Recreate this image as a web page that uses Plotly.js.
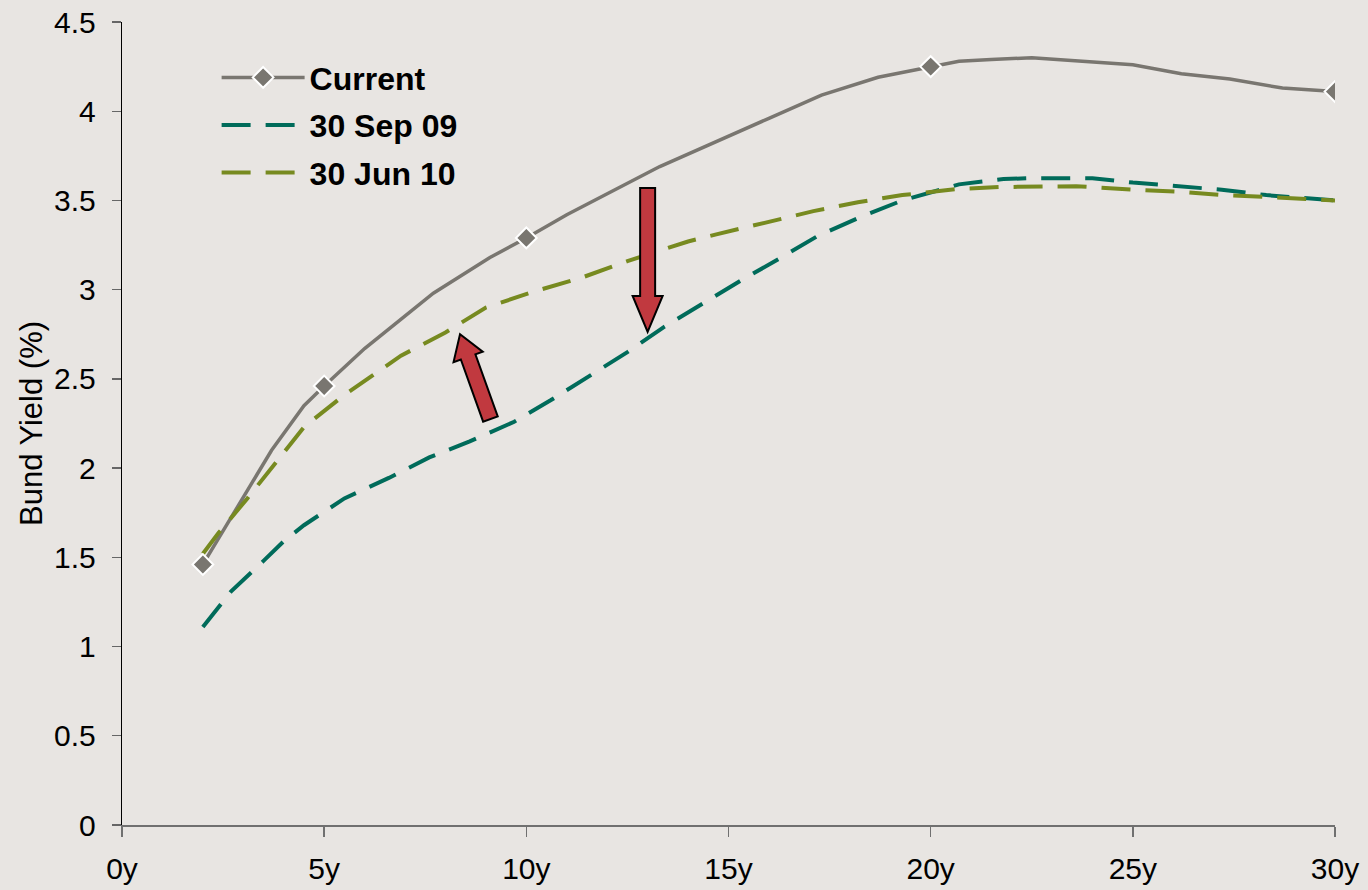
<!DOCTYPE html>
<html>
<head>
<meta charset="utf-8">
<script src="https://cdn.plot.ly/plotly-3.0.1.min.js"></script>
<style>
  html, body { margin: 0; padding: 0; background: #E8E5E2; }
  #chart { width: 1368px; height: 890px; }
</style>
</head>
<body>
<div id="chart"></div>
<script>
// ---- Data ----
const seriesNames = ["Current", "30 Sep 09", "30 Jun 10"];

const currentTenor = [2, 3.7, 4.5, 5, 6, 7.7, 9.1, 10, 11, 13.3, 16, 17.3, 18.7, 20, 20.7, 21.5, 22.5, 25, 26.2, 27.4, 28.7, 30];
const currentYield = [1.46, 2.10, 2.35, 2.46, 2.67, 2.98, 3.18, 3.29, 3.42, 3.69, 3.96, 4.09, 4.19, 4.25, 4.28, 4.29, 4.30, 4.26, 4.21, 4.18, 4.13, 4.11];

const sep09Tenor = [2, 2.7, 3.5, 4.0, 4.5, 5.5, 6.6, 7.6, 8.6, 9.7, 10.6, 11.6, 12.5, 13.4, 14.4, 15.3, 16.3, 17.2, 18.3, 19.3, 20.7, 21.8, 22.5, 24, 25, 26.1, 27.2, 28.3, 30];
const sep09Yield = [1.11, 1.31, 1.48, 1.59, 1.68, 1.83, 1.945, 2.06, 2.15, 2.26, 2.38, 2.52, 2.65, 2.79, 2.93, 3.05, 3.18, 3.30, 3.41, 3.50, 3.59, 3.62, 3.625, 3.625, 3.60, 3.58, 3.56, 3.53, 3.50];

const jun10Tenor = [2, 2.4, 3.1, 3.8, 4.5, 5.5, 6.4, 6.9, 8.0, 9.0, 10.2, 11.4, 12.5, 14.0, 14.7, 16.0, 17.1, 18.2, 19.3, 20.7, 21.7, 23.6, 25, 26.1, 27.2, 28.3, 30];
const jun10Yield = [1.52, 1.64, 1.83, 2.03, 2.23, 2.41, 2.55, 2.63, 2.76, 2.90, 2.99, 3.07, 3.16, 3.27, 3.31, 3.38, 3.44, 3.49, 3.53, 3.565, 3.575, 3.58, 3.56, 3.55, 3.53, 3.52, 3.50];

// tenors of the "Current" curve that carry a diamond marker
const currentMarkerTenors = [2, 5, 10, 20, 30];

const xTickVals = [0, 5, 10, 15, 20, 25, 30];
const xTickText = ["0y", "5y", "10y", "15y", "20y", "25y", "30y"];
const yAxisTitle = "Bund Yield (%)";

// ---- Styles ----
const FONT = "Liberation Sans, Arial, Helvetica, sans-serif";
const BG = "#E8E5E2";
const C_CURRENT = "#797670";
const C_SEP = "#006B5A";
const C_JUN = "#778A20";
const C_ARROW = "#C1393F";

// marker points (null-separated so no connecting line is drawn)
const mkX = [], mkY = [];
currentMarkerTenors.forEach(t => {
  const i = currentTenor.indexOf(t);
  mkX.push(currentTenor[i]); mkY.push(currentYield[i]);
  mkX.push(null); mkY.push(null);
});

const traces = [
  {
    x: currentTenor, y: currentYield, mode: "lines", name: seriesNames[0],
    legendgroup: "g0", showlegend: false, hoverinfo: "skip",
    line: { color: C_CURRENT, width: 3.5 }
  },
  {
    x: sep09Tenor, y: sep09Yield, mode: "lines", name: seriesNames[1],
    legendgroup: "g1", legendrank: 2,
    line: { color: C_SEP, width: 4, dash: "29px,15px" }
  },
  {
    x: jun10Tenor, y: jun10Yield, mode: "lines", name: seriesNames[2],
    legendgroup: "g2", legendrank: 3,
    line: { color: C_JUN, width: 4, dash: "29px,15px" }
  },
  {
    x: mkX, y: mkY, mode: "lines+markers", name: seriesNames[0],
    legendgroup: "g0", legendrank: 1, connectgaps: false,
    line: { color: C_CURRENT, width: 3.5 },
    marker: { symbol: "diamond", size: 16, color: C_CURRENT, line: { color: "#FFFFFF", width: 2 } }
  }
];

// ---- Block arrows (annotations, anchored at data points, drawn in pixels) ----
const arrowSpecs = [
  { tipX: 13.0, tipY: 2.763, angle: -90, length: 144, shaftW: 15, headW: 30, headLen: 36 },
  { tipX: 8.36, tipY: 2.75, angle: 109.75, length: 90, shaftW: 15.5, headW: 31, headLen: 24 }
];

function arrowPath(s) {
  const a = s.angle * Math.PI / 180;
  const dx = Math.cos(a), dy = Math.sin(a);
  const px = -dy, py = dx;
  const bx = -dx * s.headLen, by = -dy * s.headLen;
  const tx = -dx * s.length, ty = -dy * s.length;
  const hs = s.shaftW / 2, hh = s.headW / 2;
  const pts = [
    [0, 0],
    [bx + px * hh, by + py * hh],
    [bx + px * hs, by + py * hs],
    [tx + px * hs, ty + py * hs],
    [tx - px * hs, ty - py * hs],
    [bx - px * hs, by - py * hs],
    [bx - px * hh, by - py * hh]
  ];
  return "M" + pts.map(p => p[0].toFixed(2) + "," + p[1].toFixed(2)).join("L") + "Z";
}

const shapes = arrowSpecs.map(s => ({
  type: "path", xref: "x", yref: "y",
  xsizemode: "pixel", ysizemode: "pixel",
  xanchor: s.tipX, yanchor: s.tipY,
  path: arrowPath(s),
  fillcolor: C_ARROW,
  line: { color: "#000000", width: 2 },
  layer: "above"
}));

const layout = {
  width: 1368, height: 890,
  paper_bgcolor: BG, plot_bgcolor: BG,
  margin: { l: 122, r: 33, t: 22, b: 65, pad: 0 },
  font: { family: FONT, size: 30, color: "#000000" },
  showlegend: true,
  legend: {
    x: 0.078, y: 0.965, xanchor: "left", yanchor: "top",
    bgcolor: "rgba(0,0,0,0)",
    font: { family: FONT, size: 32, color: "#000000", weight: "bold" },
    traceorder: "grouped", tracegroupgap: 3,
    itemwidth: 83, itemclick: false, itemdoubleclick: false
  },
  xaxis: {
    range: [0, 30], tickmode: "array", tickvals: xTickVals, ticktext: xTickText,
    showgrid: false, zeroline: false,
    showline: true, linecolor: "#707070", linewidth: 1.5,
    ticks: "outside", ticklen: 10, tickwidth: 1.5, tickcolor: "#707070",
    ticklabelstandoff: 6,
    tickfont: { family: FONT, size: 30, color: "#000000" },
    fixedrange: true
  },
  yaxis: {
    range: [0, 4.5], dtick: 0.5, tick0: 0,
    showgrid: false, zeroline: false,
    showline: true, linecolor: "#000000", linewidth: 1.3,
    ticks: "outside", ticklen: 9, tickwidth: 1.3, tickcolor: "#666666",
    ticklabelstandoff: 10,
    tickfont: { family: FONT, size: 30, color: "#000000" },
    title: { text: yAxisTitle, font: { family: FONT, size: 31, color: "#000000" }, standoff: 2 },
    fixedrange: true
  },
  shapes: shapes
};

Plotly.newPlot("chart", traces, layout, { displayModeBar: false, staticPlot: true });
</script>
</body>
</html>
